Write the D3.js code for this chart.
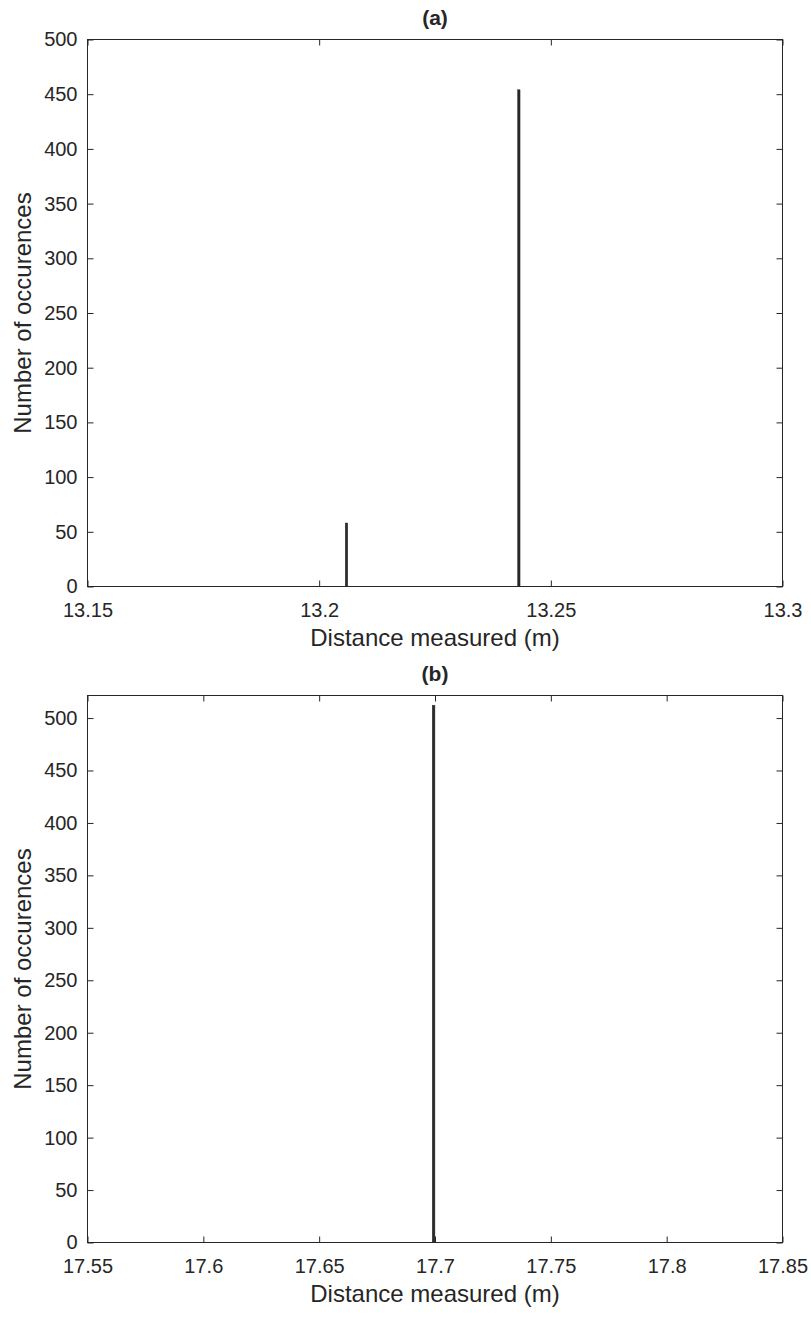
<!DOCTYPE html>
<html>
<head>
<meta charset="utf-8">
<script src="https://cdn.jsdelivr.net/npm/d3@7"></script>
<style>
  html, body { margin: 0; padding: 0; background: #fff; }
  svg { display: block; }
  text { font-family: "Liberation Sans", Arial, Helvetica, sans-serif; fill: #262626; }
</style>
</head>
<body>
<svg id="chart" width="811" height="1317"></svg>
<script>
// ---- Data ----
const panelTitles = ["(a)", "(b)"];
const xLabel = "Distance measured (m)";
const yLabel = "Number of occurences";

const binCentersA = [13.2059, 13.2431];
const countsA = [58, 454];
const binWidthA = 0.0005;
const xDomainA = [13.15, 13.3];
const yDomainA = [0, 500];
const xTicksA = [13.15, 13.2, 13.25, 13.3];

const binCentersB = [17.6994];
const countsB = [512];
const binWidthB = 0.0011;
const xDomainB = [17.55, 17.85];
const yDomainB = [0, 521.5];
const xTicksB = [17.55, 17.6, 17.65, 17.7, 17.75, 17.8, 17.85];

const yTicks = [0, 50, 100, 150, 200, 250, 300, 350, 400, 450, 500];

// ---- Layout ----
const svg = d3.select("#chart");
const left = 87.5, right = 782.5;
const panels = [
  { title: panelTitles[0], centers: binCentersA, counts: countsA, bw: binWidthA,
    xd: xDomainA, yd: yDomainA, xt: xTicksA, top: 39.5, bottom: 586.5 },
  { title: panelTitles[1], centers: binCentersB, counts: countsB, bw: binWidthB,
    xd: xDomainB, yd: yDomainB, xt: xTicksB, top: 695.5, bottom: 1242.5 }
];

const axisColor = "#262626";
const tickLen = 6;

panels.forEach(p => {
  const x = d3.scaleLinear().domain(p.xd).range([left, right]);
  const y = d3.scaleLinear().domain(p.yd).range([p.bottom, p.top]);
  const g = svg.append("g");

  // bars
  const bins = p.centers.map((c, i) => ({ c: c, n: p.counts[i] }));
  g.selectAll("rect.bar").data(bins).enter().append("rect")
    .attr("class", "bar")
    .attr("x", d => x(d.c - p.bw / 2))
    .attr("width", d => x(d.c + p.bw / 2) - x(d.c - p.bw / 2))
    .attr("y", d => y(d.n))
    .attr("height", d => y(0) - y(d.n))
    .attr("fill", "#2b2b2b")
    .attr("stroke", "#1a1a1a")
    .attr("stroke-width", 0.5);

  // axes with inward ticks (bottom/left labelled, top/right mirrored)
  const xb = d3.axisBottom(x).tickValues(p.xt).tickSizeInner(-tickLen).tickSizeOuter(0).tickPadding(16).tickFormat(d => String(d));
  const xtp = d3.axisTop(x).tickValues(p.xt).tickSizeInner(-tickLen).tickSizeOuter(0).tickFormat("");
  const yl = d3.axisLeft(y).tickValues(yTicks).tickSizeInner(-tickLen).tickSizeOuter(0).tickPadding(10).tickFormat(d => String(d));
  const yr = d3.axisRight(y).tickValues(yTicks).tickSizeInner(-tickLen).tickSizeOuter(0).tickFormat("");

  const styleAxis = sel => {
    sel.select(".domain").remove();
    sel.selectAll("line").attr("stroke", axisColor).attr("stroke-width", 1);
    sel.selectAll("text").attr("fill", axisColor)
      .style("font-family", '"Liberation Sans", Arial, sans-serif')
      .style("font-size", "20px");
  };

  g.append("g").attr("transform", `translate(0,${p.bottom})`).call(xb).call(styleAxis);
  g.append("g").attr("transform", `translate(0,${p.top})`).call(xtp).call(styleAxis);
  g.append("g").attr("transform", `translate(${left},0)`).call(yl).call(styleAxis);
  g.append("g").attr("transform", `translate(${right},0)`).call(yr).call(styleAxis);

  // box
  g.append("rect")
    .attr("x", left).attr("y", p.top)
    .attr("width", right - left).attr("height", p.bottom - p.top)
    .attr("fill", "none").attr("stroke", axisColor).attr("stroke-width", 1);

  // title
  g.append("text")
    .attr("x", (left + right) / 2).attr("y", p.top - 15)
    .attr("text-anchor", "middle")
    .style("font-size", "21px").style("font-weight", "bold")
    .attr("fill", "#000")
    .text(p.title);

  // x label
  g.append("text")
    .attr("x", (left + right) / 2).attr("y", p.bottom + 59)
    .attr("text-anchor", "middle")
    .style("font-size", "24px")
    .text(xLabel);

  // y label
  g.append("text")
    .attr("transform", `translate(31,${(p.top + p.bottom) / 2}) rotate(-90)`)
    .attr("text-anchor", "middle")
    .style("font-size", "24px")
    .text(yLabel);
});
</script>
</body>
</html>
